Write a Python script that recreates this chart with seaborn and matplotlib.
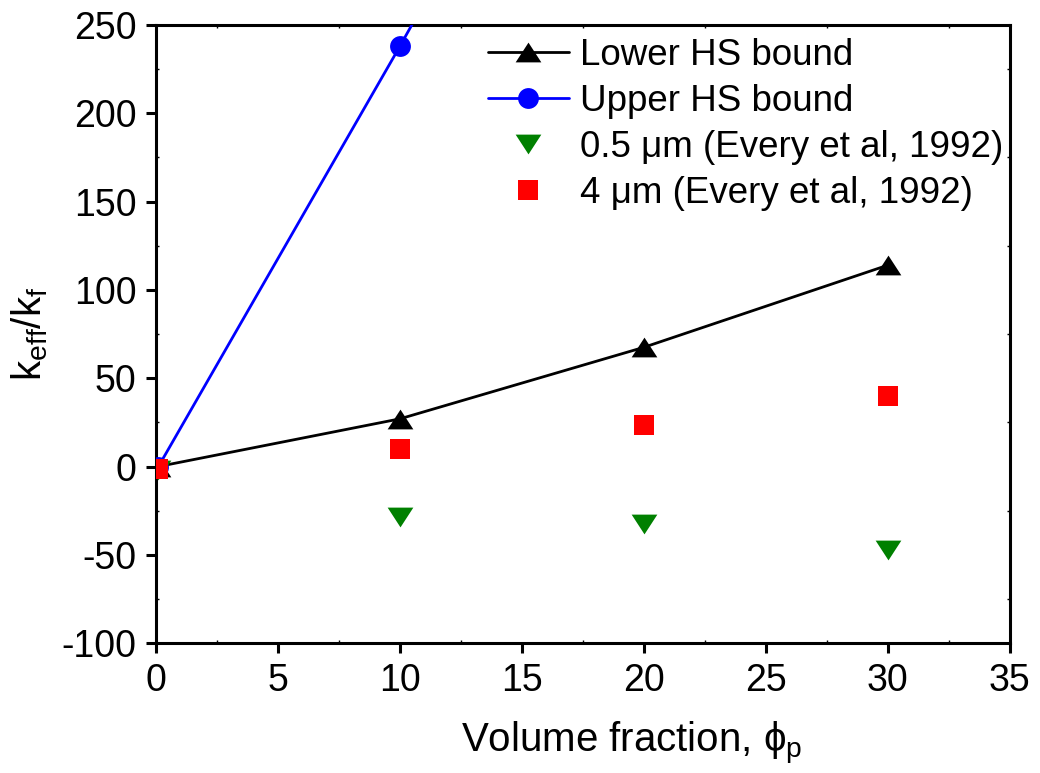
import matplotlib
matplotlib.use("Agg")
import matplotlib.pyplot as plt
import seaborn as sns
import numpy as np
from matplotlib.ticker import MultipleLocator

# ---- data ----
x_bounds = [0.1, 10, 20, 30]
lower_hs = [0, 27, 67.5, 114]
upper_hs = [0, 238, 485, 735]
x_exp = [0.1, 10, 20, 30]
exp_05um = [-2, -28.5, -32.5, -47]
exp_4um = [-1.5, 10, 23.5, 40]

labels = ["Lower HS bound", "Upper HS bound",
          "0.5 \u03bcm (Every et al, 1992)", "4 \u03bcm (Every et al, 1992)"]
xticks = [0, 5, 10, 15, 20, 25, 30, 35]
yticks = [-100, -50, 0, 50, 100, 150, 200, 250]

sns.set_style("ticks")
plt.rcParams['font.family'] = ['Liberation Sans', 'DejaVu Sans']
plt.rcParams['mathtext.fontset'] = 'custom'
plt.rcParams['mathtext.rm'] = 'Liberation Sans'
plt.rcParams['mathtext.it'] = 'Liberation Sans'
plt.rcParams['axes.linewidth'] = 2.2
plt.rcParams['axes.unicode_minus'] = False
for k in ['text.color', 'axes.labelcolor', 'xtick.color', 'ytick.color']:
    plt.rcParams[k] = 'black'

fig = plt.figure(figsize=(10.4, 7.73), dpi=100)
ax = fig.add_axes([0.15, 0.168, 0.821, 0.7997])

tri_up = [(-0.65, -0.5), (0.65, -0.5), (0.0, 0.5)]
tri_dn = [(-0.65, 0.5), (0.65, 0.5), (0.0, -0.5)]

sns.lineplot(x=x_bounds, y=lower_hs, ax=ax, color="black", lw=2,
             marker=tri_up, markersize=18.5, markeredgewidth=0,
             label=labels[0], zorder=3)
sns.lineplot(x=x_bounds, y=upper_hs, ax=ax, color="#0000ff", lw=2,
             marker="o", markersize=15, markeredgewidth=0,
             label=labels[1], zorder=3)
sns.lineplot(x=x_exp, y=exp_05um, ax=ax, color="#008000", lw=0,
             marker=tri_dn, markersize=18.5, markeredgewidth=0,
             label=labels[2], zorder=4)
sns.lineplot(x=x_exp, y=exp_4um, ax=ax, color="#ff0000", lw=0,
             marker="s", markersize=14, markeredgewidth=0,
             label=labels[3], zorder=5)

ax.set_xlim(0, 35)
ax.set_ylim(-100, 250)
ax.set_xticks(xticks)
ax.set_yticks(yticks)
ax.xaxis.set_minor_locator(MultipleLocator(2.5))
ax.yaxis.set_minor_locator(MultipleLocator(25))
ax.tick_params(axis='both', which='major', direction='out', length=7, width=2.2,
               labelsize=27, pad=7, top=False, right=False)
ax.tick_params(axis='both', which='minor', direction='in', length=2.5, width=1,
               top=True, right=True, bottom=True, left=True)

for s in ax.spines.values():
    s.set_visible(True)
    s.set_linewidth(2.2)
    s.set_color("black")

ax.set_xlabel("Volume fraction, \u03d5$_\\mathregular{p}$", fontsize=29)
ax.xaxis.set_label_coords(0.557, -0.125)
ax.set_ylabel("k$_\\mathregular{eff}$/k$_\\mathregular{f}$", fontsize=29, labelpad=8)

leg = ax.legend(loc="upper right", frameon=False, fontsize=26.5,
                handlelength=2.2, handletextpad=0.3, labelspacing=0.3,
                borderpad=0.35, borderaxespad=0.0, bbox_to_anchor=(1.007, 1.0))

fig.savefig("out.png", dpi=100)
